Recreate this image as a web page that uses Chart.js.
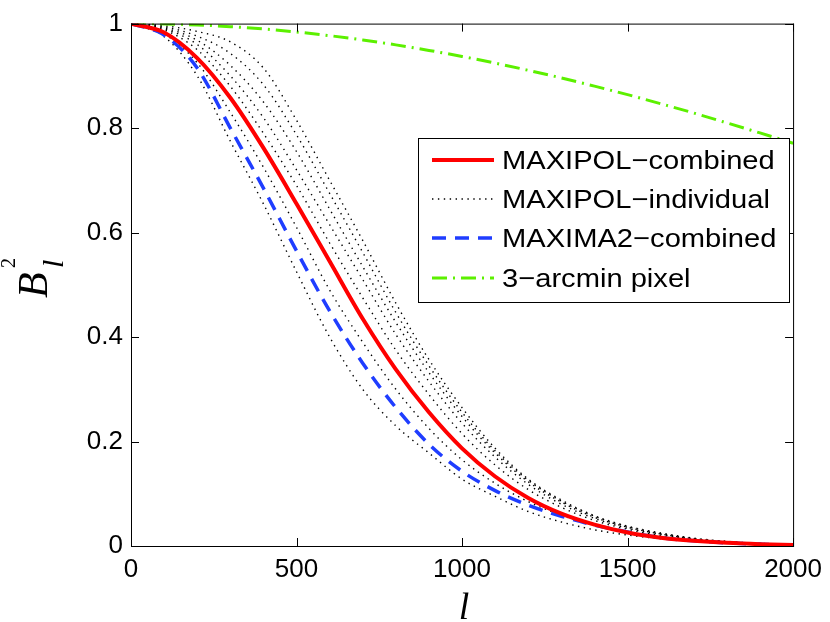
<!DOCTYPE html>
<html>
<head>
<meta charset="utf-8">
<script src="https://cdn.jsdelivr.net/npm/chart.js@4.4.0/dist/chart.umd.min.js"></script>
<style>
  body { margin: 0; background: #fff; }
  #wrap { width: 830px; height: 622px; }
</style>
</head>
<body>
<div id="wrap"><canvas id="beam" width="830" height="622"></canvas></div>
<script>
// multipole l
let ells = [0, 100, 200, 300, 400, 500, 600, 700, 800, 900, 1000, 1100, 1200, 1300, 1400, 1500, 1600, 1700, 1800, 1900, 2000];

// B_l^2
let maxipolCombined = [1, 0.983, 0.934, 0.858, 0.762, 0.655, 0.545, 0.435, 0.338, 0.256, 0.187, 0.133, 0.092, 0.062, 0.041, 0.026, 0.016, 0.010, 0.006, 0.0035, 0.002];
let maxima2Combined = [1, 0.978, 0.915, 0.80, 0.685, 0.565, 0.45, 0.35, 0.265, 0.195, 0.143, 0.106, 0.078, 0.057, 0.040, 0.027, 0.016, 0.010, 0.006, 0.0035, 0.002];
let pixel3arcmin = [1, 0.9994, 0.9974, 0.9942, 0.9897, 0.9839, 0.9769, 0.9687, 0.9593, 0.9487, 0.9371, 0.9244, 0.9106, 0.896, 0.8803, 0.864, 0.8467, 0.8288, 0.81, 0.7907, 0.771];

// individual bolometer beams (dotted)
let individual = [
  [1, 0.975, 0.90, 0.775, 0.655, 0.525, 0.40, 0.30, 0.23, 0.178, 0.128, 0.095, 0.066, 0.046, 0.031, 0.021, 0.014, 0.009, 0.006, 0.004, 0.002],
  [1, 0.98, 0.925, 0.83, 0.725, 0.61, 0.49, 0.39, 0.30, 0.225, 0.165, 0.12, 0.085, 0.059, 0.040, 0.027, 0.017, 0.011, 0.007, 0.004, 0.002],
  [1, 0.988, 0.95, 0.88, 0.79, 0.69, 0.58, 0.475, 0.375, 0.29, 0.215, 0.155, 0.108, 0.074, 0.049, 0.032, 0.020, 0.012, 0.007, 0.004, 0.002],
  [1, 0.99, 0.96, 0.90, 0.82, 0.72, 0.615, 0.51, 0.405, 0.315, 0.235, 0.17, 0.118, 0.080, 0.053, 0.034, 0.022, 0.013, 0.008, 0.005, 0.003],
  [1, 0.992, 0.968, 0.92, 0.85, 0.755, 0.645, 0.535, 0.428, 0.332, 0.248, 0.178, 0.123, 0.084, 0.055, 0.036, 0.023, 0.014, 0.008, 0.005, 0.003],
  [1, 0.994, 0.976, 0.943, 0.883, 0.787, 0.675, 0.562, 0.447, 0.345, 0.256, 0.182, 0.126, 0.086, 0.057, 0.037, 0.024, 0.014, 0.008, 0.005, 0.003],
  [1, 0.996, 0.985, 0.965, 0.915, 0.815, 0.70, 0.585, 0.465, 0.357, 0.265, 0.187, 0.128, 0.088, 0.058, 0.038, 0.025, 0.015, 0.009, 0.005, 0.003]
];

let xTicks = [0, 500, 1000, 1500, 2000];
let yTicks = [0, 0.2, 0.4, 0.6, 0.8, 1];

function toPoints(vals) {
  return vals.map((v, i) => ({ x: ells[i], y: v }));
}

let datasets = [];
datasets.push({
  label: 'MAXIPOL\u2212combined', data: toPoints(maxipolCombined),
  borderColor: '#ff0000', borderWidth: 4, order: 0, showInLegend: true
});
individual.forEach((vals, i) => {
  datasets.push({
    label: 'MAXIPOL\u2212individual', data: toPoints(vals),
    borderColor: '#000', borderWidth: 1.4, borderDash: [1.4, 4.5], order: 3, showInLegend: i === 0
  });
});
datasets.push({
  label: 'MAXIMA2\u2212combined', data: toPoints(maxima2Combined),
  borderColor: '#1f3dff', borderWidth: 3.5, borderDash: [14, 9], order: 1, showInLegend: true
});
datasets.push({
  label: '3\u2212arcmin pixel', data: toPoints(pixel3arcmin),
  borderColor: '#5cf000', borderWidth: 3, borderDash: [15, 6, 2, 6], order: 2, showInLegend: true
});

// inward ticks + full box, like the original plot
const frame = {
  id: 'frame',
  afterDatasetsDraw(chart) {
    const { ctx, chartArea: a, scales } = chart;
    ctx.save();
    ctx.strokeStyle = '#000';
    ctx.lineWidth = 1;
    ctx.setLineDash([]);
    ctx.strokeRect(a.left + 0.5, a.top + 0.5, a.right - a.left, a.bottom - a.top);
    xTicks.forEach(t => {
      let px = Math.round(scales.x.getPixelForValue(t)) + 0.5;
      ctx.beginPath();
      ctx.moveTo(px, a.bottom); ctx.lineTo(px, a.bottom - 8);
      ctx.moveTo(px, a.top); ctx.lineTo(px, a.top + 8);
      ctx.stroke();
    });
    yTicks.forEach(t => {
      let py = Math.round(scales.y.getPixelForValue(t)) + 0.5;
      ctx.beginPath();
      ctx.moveTo(a.left, py); ctx.lineTo(a.left + 8, py);
      ctx.moveTo(a.right, py); ctx.lineTo(a.right - 8, py);
      ctx.stroke();
    });
    ctx.restore();
  },
  afterDraw(chart) {
    const ctx = chart.ctx;
    ctx.save();
    ctx.fillStyle = '#000';
    // x title
    ctx.font = 'italic 38px "Liberation Serif"';
    ctx.textAlign = 'center';
    ctx.textBaseline = 'alphabetic';
    ctx.fillText('l', 464, 619);
    ctx.restore();

    // y title B_l^2, turned on its side
    ctx.save();
    ctx.fillStyle = '#000';
    ctx.textAlign = 'left';
    ctx.textBaseline = 'alphabetic';
    ctx.translate(47, 298);
    ctx.rotate(-Math.PI / 2);
    ctx.font = 'italic 42px "Liberation Serif"';
    ctx.fillText('B', 0, 0);
    ctx.font = '20px "Liberation Serif"';
    ctx.fillText('2', 30, -32);
    ctx.font = 'italic 30px "Liberation Serif"';
    ctx.fillText('l', 30, 16);
    ctx.restore();

    // legend box
    let box = { x: 418, y: 138, w: 371, h: 164 };
    ctx.save();
    ctx.fillStyle = '#fff';
    ctx.fillRect(box.x, box.y, box.w, box.h);
    ctx.strokeStyle = '#000';
    ctx.lineWidth = 1;
    ctx.strokeRect(box.x + 0.5, box.y + 0.5, box.w, box.h);
    let rows = chart.data.datasets.filter(d => d.showInLegend);
    let rowY = [160, 199, 238, 278];
    rows.forEach((d, i) => {
      let y = rowY[i];
      ctx.beginPath();
      ctx.strokeStyle = d.borderColor;
      ctx.lineWidth = d.borderWidth;
      ctx.setLineDash(d.borderDash || []);
      ctx.moveTo(432, y);
      ctx.lineTo(494, y);
      ctx.stroke();
      ctx.save();
      ctx.translate(502, y + 9);
      ctx.scale(1.12, 1);
      ctx.fillStyle = '#000';
      ctx.font = '26px "Liberation Sans"';
      ctx.textBaseline = 'alphabetic';
      ctx.fillText(d.label, 0, 0);
      ctx.restore();
    });
    ctx.restore();
  }
};

let tickFont = { family: '"Liberation Sans", Arial, sans-serif', size: 26 };

new Chart(document.getElementById('beam'), {
  type: 'line',
  data: { datasets: datasets },
  options: {
    responsive: false,
    animation: false,
    layout: { padding: { top: 14, right: 33, left: 0, bottom: 0 } },
    elements: { point: { radius: 0 }, line: { cubicInterpolationMode: 'monotone', fill: false } },
    plugins: { legend: { display: false }, tooltip: { enabled: false } },
    scales: {
      x: {
        type: 'linear', min: 0, max: 2000,
        grid: { display: false, drawTicks: false },
        border: { display: false },
        ticks: {
          stepSize: 500, color: '#000', font: tickFont, padding: 8, maxRotation: 0,
          callback: v => String(Math.round(v))
        },
        afterFit(scale) { scale.height = 76; }
      },
      y: {
        min: 0, max: 1,
        grid: { display: false, drawTicks: false },
        border: { display: false },
        ticks: {
          stepSize: 0.2, color: '#000', font: tickFont, padding: 8,
          callback: v => String(Math.round(v * 10) / 10)
        },
        afterFit(scale) { scale.width = 131; }
      }
    }
  },
  plugins: [frame]
});
</script>
</body>
</html>
